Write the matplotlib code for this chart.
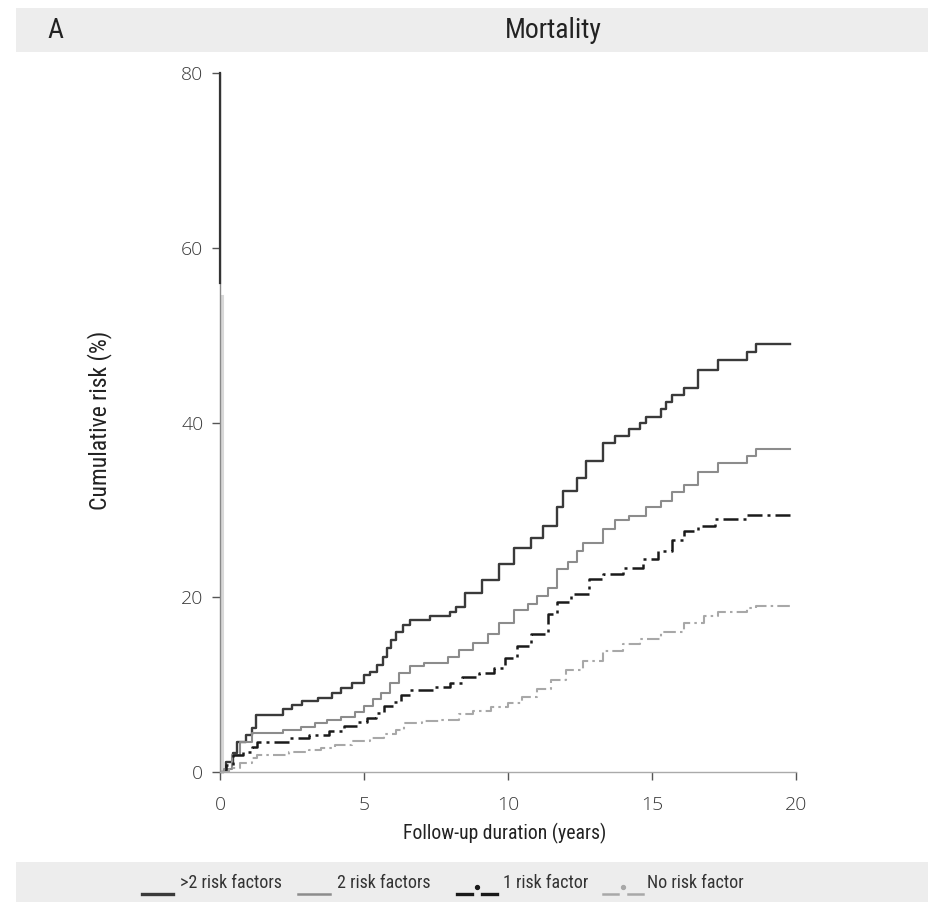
import matplotlib
matplotlib.use("Agg")
import matplotlib.pyplot as plt
from matplotlib import font_manager
from matplotlib.lines import Line2D
from matplotlib.patches import Rectangle

# Kaplan-Meier style cumulative mortality (step functions, value holds until next time)
t_gt2 = [0, 0.2, 0.45, 0.6, 0.9, 1.1, 1.25, 2.2, 2.5, 2.85, 3.4, 3.9, 4.2, 4.6, 5.0, 5.2,
         5.45, 5.65, 5.8, 5.95, 6.1, 6.35, 6.6, 7.3, 8.0, 8.2, 8.5, 9.1, 9.7, 10.2, 10.8,
         11.2, 11.7, 11.9, 12.4, 12.7, 13.3, 13.7, 14.2, 14.6, 14.8, 15.3, 15.5, 15.7,
         16.1, 16.6, 17.3, 18.3, 18.6, 19.8]
v_gt2 = [0, 1.1, 2.2, 3.4, 4.2, 5.0, 6.5, 7.2, 7.7, 8.1, 8.5, 9.0, 9.6, 10.2, 11.1, 11.5,
         12.3, 13.2, 14.2, 15.1, 16.0, 16.8, 17.4, 17.8, 18.3, 18.9, 20.5, 22.0, 23.8, 25.6,
         26.8, 28.2, 30.3, 32.2, 33.7, 35.6, 37.6, 38.5, 39.3, 40.0, 40.6, 41.6, 42.3, 43.1,
         43.9, 46.0, 47.1, 48.1, 49.0, 49.0]

t_two = [0, 0.15, 0.4, 0.7, 1.1, 2.2, 2.8, 3.3, 3.7, 4.2, 4.7, 5.0, 5.3, 5.6, 5.9, 6.2,
         6.6, 7.1, 7.9, 8.3, 8.8, 9.3, 9.7, 10.2, 10.7, 11.0, 11.4, 11.7, 12.1, 12.4, 12.6,
         13.3, 13.7, 14.2, 14.8, 15.3, 15.7, 16.1, 16.6, 17.3, 18.3, 18.6, 19.8]
v_two = [0, 0.4, 2.0, 3.4, 4.5, 4.8, 5.2, 5.6, 6.0, 6.3, 6.9, 7.5, 8.3, 9.0, 10.2, 11.3,
         12.1, 12.5, 13.2, 14.0, 14.8, 15.8, 17.0, 18.5, 19.2, 20.2, 21.1, 23.2, 24.0, 25.3,
         26.2, 27.8, 28.8, 29.3, 30.3, 31.0, 32.0, 32.8, 34.3, 35.4, 36.2, 37.0, 37.0]

t_one = [0, 0.2, 0.45, 0.8, 1.1, 1.3, 2.4, 3.1, 3.8, 4.3, 4.8, 5.1, 5.4, 5.7, 6.0, 6.3,
         6.6, 7.4, 8.0, 8.4, 9.0, 9.5, 9.9, 10.3, 10.8, 11.4, 11.7, 12.2, 12.8, 13.3, 14.0,
         14.7, 15.2, 15.7, 16.1, 16.6, 17.2, 18.3, 18.6, 19.8]
v_one = [0, 0.8, 1.9, 2.3, 2.9, 3.4, 3.9, 4.2, 4.7, 5.3, 5.7, 6.2, 6.8, 7.5, 8.0, 8.8,
         9.4, 9.7, 10.2, 10.9, 11.3, 11.9, 13.1, 14.4, 15.8, 18.1, 19.4, 20.4, 22.1, 22.7,
         23.4, 24.4, 25.3, 26.5, 27.6, 28.2, 28.9, 29.4, 29.4, 29.4]

t_none = [0, 0.3, 0.7, 1.1, 1.3, 2.4, 3.1, 3.5, 4.0, 4.6, 5.2, 5.7, 6.1, 6.4, 7.0, 7.6,
          8.3, 8.8, 9.4, 10.0, 10.5, 11.0, 11.5, 12.0, 12.6, 13.3, 14.0, 14.6, 15.3, 16.1,
          16.8, 17.3, 18.3, 18.6, 19.8]
v_none = [0, 0.5, 1.0, 1.6, 2.0, 2.3, 2.5, 2.7, 3.1, 3.5, 3.9, 4.3, 4.8, 5.6, 5.8, 6.0,
          6.6, 7.0, 7.4, 7.9, 8.6, 9.5, 10.5, 11.7, 12.7, 13.9, 14.7, 15.2, 16.0, 17.0,
          17.9, 18.3, 18.8, 19.0, 19.0]

x_ticks = [0, 5, 10, 15, 20]
y_ticks = [0, 20, 40, 60, 80]
series_labels = [">2 risk factors", "2 risk factors", "1 risk factor", "No risk factor"]

# pick a narrow sans family for the labels, falling back to Lato
installed = {f.name for f in font_manager.fontManager.ttflist}
narrow_name = next((n for n in ["Liberation Sans Narrow", "Roboto Condensed",
                                "Open Sans Condensed", "Lato"] if n in installed),
                   "DejaVu Sans")
is_narrow = narrow_name != "Lato" and narrow_name != "DejaVu Sans"
k = 1.0 if is_narrow else 0.86
narrow = [narrow_name, "DejaVu Sans"]
light = ["Open Sans", "DejaVu Sans"]

W, H = 929, 902
fig = plt.figure(figsize=(W / 100, H / 100), dpi=100)

def fx(px):
    return px / W

def fy(py):
    return 1 - py / H

# header band
fig.add_artist(Rectangle((fx(16), fy(52)), 1 - fx(16), (52 - 8) / H,
                         transform=fig.transFigure, facecolor="#ededed",
                         edgecolor="none", zorder=0))
fig.text(fx(55), fy(31), "A", family=narrow, fontsize=20 * k, color="#222",
         ha="center", va="center")
fig.text(fx(553), fy(31), "Mortality", family=narrow, fontsize=20 * k, color="#222",
         ha="center", va="center")

ax = fig.add_axes([fx(220), fy(772), fx(796) - fx(220), (772 - 73) / H])

styles = [
    dict(color="#3a3a3a", lw=1.7, ls="-"),
    dict(color="#8c8c8c", lw=1.5, ls="-"),
    dict(color="#1a1a1a", lw=1.8, ls=(0, (6, 2, 1.2, 2))),
    dict(color="#a8a8a8", lw=1.5, ls=(0, (6, 2, 1.2, 2))),
]
for (tt, vv), st in zip([(t_gt2, v_gt2), (t_two, v_two), (t_one, v_one), (t_none, v_none)],
                        styles):
    ax.plot(tt, vv, drawstyle="steps-post", **st)

# shaded marks along the left axis
ax.plot([0, 0], [56, 80], color="#333", lw=1.6, clip_on=False, zorder=5)
ax.plot([0.08, 0.08], [0, 54.5], color="#d8d8d8", lw=2.2, clip_on=False, zorder=1)

ax.set_xlim(0, 20)
ax.set_ylim(0, 80)
ax.set_xticks(x_ticks)
ax.set_yticks(y_ticks)
ax.set_xticklabels([str(v) for v in x_ticks], family=light, fontsize=14,
                   fontweight="light", color="#3a3a3a")
ax.set_yticklabels([str(v) for v in y_ticks], family=light, fontsize=14,
                   fontweight="light", color="#3a3a3a")
ax.tick_params(axis="both", direction="out", length=6, width=1, color="#555")
ax.tick_params(axis="x", pad=11)
ax.tick_params(axis="y", pad=6)
for s in ["top", "right"]:
    ax.spines[s].set_visible(False)
ax.spines["left"].set_color("#888")
ax.spines["left"].set_linewidth(1.0)
ax.spines["bottom"].set_color("#aaa")
ax.spines["bottom"].set_linewidth(1.0)

fig.text(fx(100), fy(420), "Cumulative risk (%)", family=narrow, fontsize=17 * k,
         color="#222", rotation=90, ha="center", va="center")
fig.text(fx(505), fy(833), "Follow-up duration (years)", family=narrow, fontsize=14.2 * k,
         color="#222", ha="center", va="center")

# legend band
fig.add_artist(Rectangle((fx(16), 0), 1 - fx(16), (H - 862) / H,
                         transform=fig.transFigure, facecolor="#ededed",
                         edgecolor="none", zorder=0))
leg_items = [
    (142, 173, 180, styles[0], False),
    (298, 330, 337, styles[1], False),
    (457, 497, 503, styles[2], True),
    (603, 643, 647, styles[3], True),
]
for (x0, x1, xt, st, dotted), lab in zip(leg_items, series_labels):
    lw = 2.4 if st["color"] in ("#3a3a3a", "#1a1a1a") else 1.8
    if dotted:
        seg = (x1 - x0) * 0.38
        fig.add_artist(Line2D([fx(x0), fx(x0 + seg)], [fy(894), fy(894)],
                              color=st["color"], lw=lw))
        fig.add_artist(Line2D([fx(x1 - seg), fx(x1)], [fy(894), fy(894)],
                              color=st["color"], lw=lw))
        fig.add_artist(Line2D([fx((x0 + x1) / 2)], [fy(887)], marker="o", ms=2.8,
                              color=st["color"], lw=0))
    else:
        fig.add_artist(Line2D([fx(x0), fx(x1)], [fy(894), fy(894)],
                              color=st["color"], lw=lw))
    fig.text(fx(xt), fy(883), lab, family=narrow, fontsize=13 * k, color="#333",
             ha="left", va="center")

fig.savefig("out.png", dpi=100)
